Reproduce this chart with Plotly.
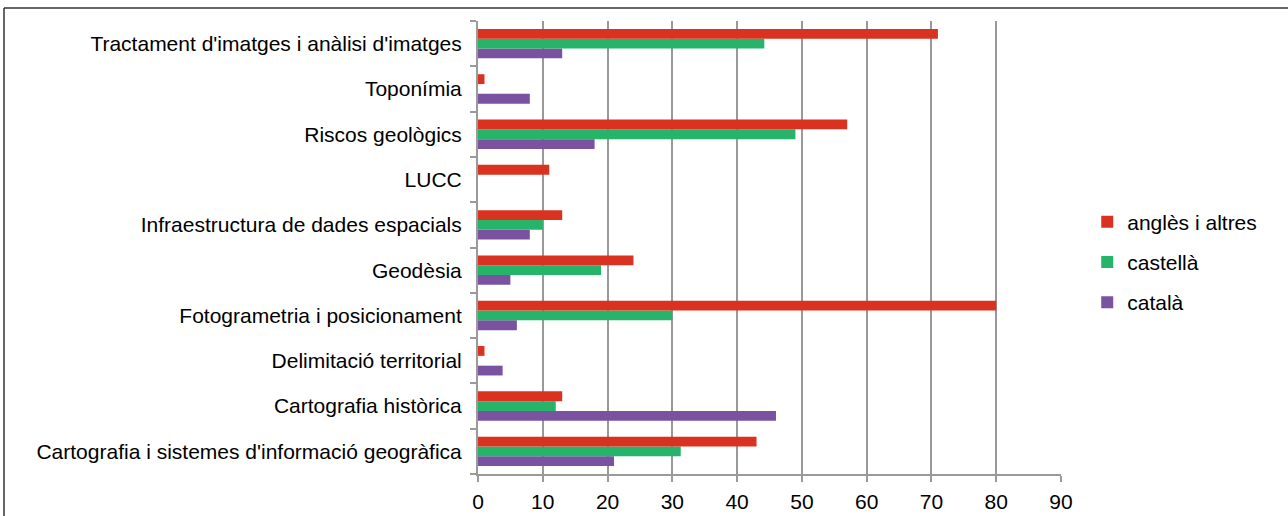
import plotly.graph_objects as go

categories = [
    "Cartografia i sistemes d'informació geogràfica",
    "Cartografia històrica",
    "Delimitació territorial",
    "Fotogrametria i posicionament",
    "Geodèsia",
    "Infraestructura de dades espacials",
    "LUCC",
    "Riscos geològics",
    "Toponímia",
    "Tractament d'imatges i anàlisi d'imatges",
]
catala = [21, 46, 3.8, 6, 5, 8, 0, 18, 8, 13]
castella = [31.3, 12, 0, 30, 19, 10, 0, 49, 0, 44.2]
angles = [43, 13, 1, 80, 24, 13, 11, 57, 1, 71]
x_ticks = [0, 10, 20, 30, 40, 50, 60, 70, 80, 90]

series = [
    ("català", catala, "#7A52A0", 3),
    ("castellà", castella, "#26B46A", 2),
    ("anglès i altres", angles, "#D93220", 1),
]

fig = go.Figure()
for i, (name, vals, col, rank) in enumerate(series):
    fig.add_trace(go.Bar(
        y=categories, x=vals, name=name, orientation="h",
        marker=dict(color=col, line=dict(width=0)),
        legendgroup=f"g{i}", legendrank=rank,
    ))

font_family = "Liberation Sans, Arial, sans-serif"
fig.update_layout(
    width=1288, height=516,
    margin=dict(l=478, r=227, t=21, b=42),
    paper_bgcolor="white", plot_bgcolor="white",
    barmode="group", bargap=0.35, bargroupgap=0,
    font=dict(family=font_family, size=21, color="black"),
    showlegend=True,
    legend=dict(
        x=1.045, y=0.468, xanchor="left", yanchor="middle",
        traceorder="grouped", tracegroupgap=10,
        font=dict(size=21, color="black"),
        bgcolor="rgba(0,0,0,0)",
    ),
    xaxis=dict(
        range=[0, 90], tickvals=x_ticks, ticktext=[str(v) for v in x_ticks],
        showgrid=True, gridcolor="#999999", gridwidth=2,
        showline=True, linecolor="#9A9A9A", linewidth=2,
        ticks="outside", ticklen=6, tickcolor="#9A9A9A", tickwidth=2,
        zeroline=False, fixedrange=True, ticklabelstandoff=2,
        automargin=False,
        tickfont=dict(size=21, color="black"),
    ),
    yaxis=dict(
        type="category", categoryorder="array", categoryarray=categories,
        showline=True, linecolor="#9A9A9A", linewidth=2,
        ticks="outside", ticklen=6, tickcolor="#9A9A9A", tickwidth=2,
        tickson="boundaries", showgrid=False, fixedrange=True,
        ticklabelstandoff=10, automargin=False,
        tickfont=dict(size=21, color="black"),
    ),
    shapes=[
        dict(type="line", xref="paper", yref="paper",
             x0=(4 - 478) / 583, x1=(1288 - 478) / 583,
             y0=(474 - 8) / 453, y1=(474 - 8) / 453,
             line=dict(color="#333333", width=1.5)),
        dict(type="line", xref="paper", yref="paper",
             x0=(4 - 478) / 583, x1=(4 - 478) / 583,
             y0=(474 - 8) / 453, y1=(474 - 530) / 453,
             line=dict(color="#333333", width=1.5)),
    ],
)

fig.write_html("out.html", config={"displayModeBar": False},
               post_script="document.body.style.margin='0';")
